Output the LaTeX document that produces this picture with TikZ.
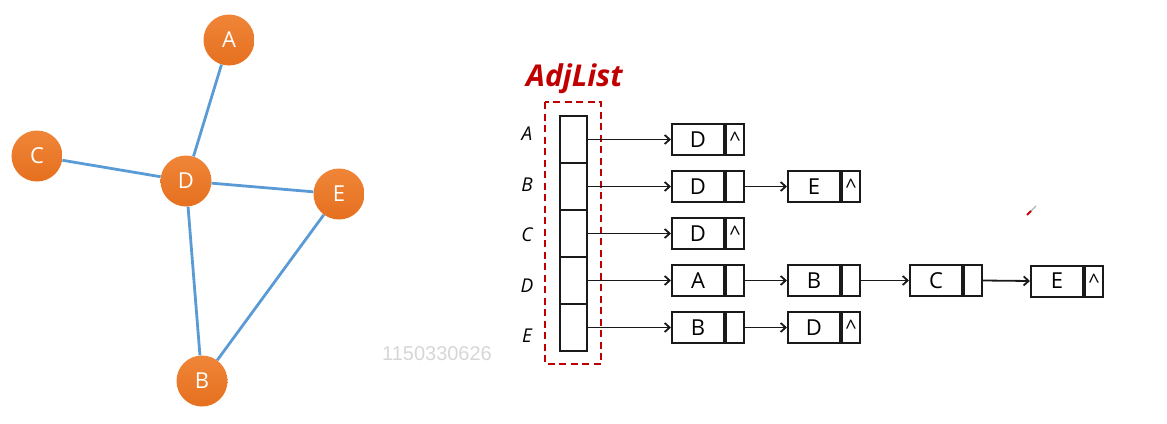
\documentclass[tikz,border=0pt]{standalone}
\usepackage{fontspec}
\setmainfont{Open Sans}
\newfontfamily\wmfont{Liberation Sans}
\usetikzlibrary{arrows.meta}
\definecolor{orangetop}{HTML}{F08538}
\definecolor{orangebot}{HTML}{E5701F}
\definecolor{edgeblue}{HTML}{5B9BD5}
\definecolor{darkred}{HTML}{C00000}
\definecolor{boxline}{HTML}{1A1A1A}
\definecolor{wmgray}{HTML}{D6D6D6}
\begin{document}
\begin{tikzpicture}[x=1pt,y=-1pt,
  vert/.style={circle, minimum size=51pt, inner sep=0pt, top color=orangetop, bottom color=orangebot, text=white, font=\fontsize{22}{26}\selectfont},
  gedge/.style={draw=edgeblue, line width=2.8pt},
  cell/.style={draw=boxline, minimum width=27pt, minimum height=47pt, inner sep=0pt, line width=2pt},
  datab/.style={draw=boxline, minimum width=52pt, minimum height=31pt, inner sep=0pt, line width=2pt, font=\fontsize{22}{26}\selectfont},
  ptrb/.style={draw=boxline, minimum width=18pt, minimum height=31pt, inner sep=0pt, line width=2pt, anchor=west, font=\fontsize{20}{24}\selectfont},
  arr/.style={draw=boxline, line width=1.8pt, -{Straight Barb[length=5pt,width=9pt]}},
  rowlab/.style={font=\itshape\fontsize{19}{23}\selectfont},
  dashbox/.style={draw=darkred, line width=2.4pt, dash pattern=on 7pt off 4.5pt}
]
\useasboundingbox (0,0) rectangle (1167,423);
% graph
\node[vert] (A) at (229,40) {A};
\node[vert] (C) at (37,156) {C};
\node[vert] (D) at (186,181) {D};
\node[vert] (E) at (339,194) {E};
\node[vert] (B) at (202,381) {B};
\draw[gedge] (A) -- (D);
\draw[gedge] (C) -- (D);
\draw[gedge] (D) -- (E);
\draw[gedge] (D) -- (B);
\draw[gedge] (E) -- (B);
% watermark
\node[text=wmgray, font=\wmfont\fontsize{20}{24}\selectfont] (wm) at (437,354) {1150330626};
% title
\node[anchor=base west, inner sep=0pt, text=darkred, font=\bfseries\itshape\fontsize{30}{34}\selectfont] (title) at (526,86) {AdjList};
% dashed frame
\draw[dashbox] (545,102) rectangle (601,364);
% array cells
\node[cell] (cA) at (573.5,139.5) {};
\node[cell] (cB) at (573.5,186.5) {};
\node[cell] (cC) at (573.5,233.5) {};
\node[cell] (cD) at (573.5,280.5) {};
\node[cell] (cE) at (573.5,327.5) {};
% row labels
\node[rowlab] (lA) at (527,134) {A};
\node[rowlab] (lB) at (527,185) {B};
\node[rowlab] (lC) at (527,235) {C};
\node[rowlab] (lD) at (527,286) {D};
\node[rowlab] (lE) at (527,336) {E};
% row A
\node[datab] (a1) at (698,139.5) {D};
\node[ptrb] (a1p) at (a1.east) {\^{}};
% row B
\node[datab] (b1) at (698,186.5) {D};
\node[ptrb] (b1p) at (b1.east) {};
\node[datab] (b2) at (814,186.5) {E};
\node[ptrb] (b2p) at (b2.east) {\^{}};
% row C
\node[datab] (c1) at (698,233.5) {D};
\node[ptrb] (c1p) at (c1.east) {\^{}};
% row D
\node[datab] (d1) at (698,280.5) {A};
\node[ptrb] (d1p) at (d1.east) {};
\node[datab] (d2) at (814,280.5) {B};
\node[ptrb] (d2p) at (d2.east) {};
\node[datab] (d3) at (936,280.5) {C};
\node[ptrb] (d3p) at (d3.east) {};
\node[datab] (d4) at (1057,281) {E};
\node[ptrb] (d4p) at (d4.east) {\^{}};
% row E
\node[datab] (e1) at (698,327.5) {B};
\node[ptrb] (e1p) at (e1.east) {};
\node[datab] (e2) at (814,327.5) {D};
\node[ptrb] (e2p) at (e2.east) {\^{}};
% arrows
\draw[arr] (cA.east) -- (a1.west);
\draw[arr] (cB.east) -- (b1.west);
\draw[arr] (cC.east) -- (c1.west);
\draw[arr] (cD.east) -- (d1.west);
\draw[arr] (cE.east) -- (e1.west);
\draw[arr] (b1p.east) -- (b2.west);
\draw[arr] (d1p.east) -- (d2.west);
\draw[arr] (d2p.east) -- (d3.west);
\draw[arr] (d3p.east) -- (d4.west);
\draw[arr] (e1p.east) -- (e2.west);
% pen cursor
\draw[gray!60, line width=1.2pt] (1036,206) -- (1030,212);
\draw[red!80!black, line width=2pt] (1031,211) -- (1027,215);
\end{tikzpicture}
\end{document}
